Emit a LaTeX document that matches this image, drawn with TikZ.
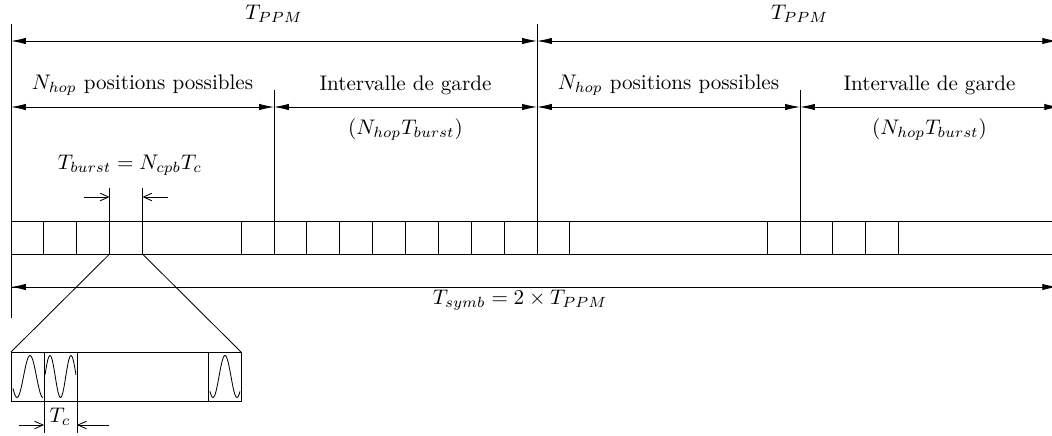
\documentclass[tikz,border=0pt]{standalone}
\usepackage{amsmath}
\usetikzlibrary{arrows.meta}

\begin{document}
\begin{tikzpicture}[
    x=0.474pt, y=-0.474pt,
    dimarr/.style={{Latex[length=7pt,width=3pt]}-{Latex[length=7pt,width=3pt]}, thin},
    smallarr/.style={-{Straight Barb[length=4pt,width=3.6pt]}, thin},
    wave/.style={thin, smooth, samples=40}
  ]
  \useasboundingbox (0,0) rectangle (1052,435);
  % reperes verticaux
  \draw (11,24) -- (11,318);
  \draw (537,24) -- (537,254);
  \draw (274,90) -- (274,221);
  \draw (800,90) -- (800,254);
  % durees T_PPM
  \draw[dimarr] (11,41) -- (537,41) node[midway, above=5pt] (tppma) {$T_{PPM}$};
  \draw[dimarr] (537,41) -- (1057,41) node[pos=0.505, above=5pt] (tppmb) {$T_{PPM}$};
  % positions et intervalles de garde
  \draw[dimarr] (11,107) -- (274,107) node[midway, above=2pt] (posa) {$N_{hop}$ positions possibles};
  \draw[dimarr] (274,107) -- (537,107) node[midway, above=2pt] (gardea) {Intervalle de garde}
    node[midway, below=2pt] (ga) {$(N_{hop}T_{burst})$};
  \draw[dimarr] (537,107) -- (800,107) node[midway, above=2pt] (posb) {$N_{hop}$ positions possibles};
  \draw[dimarr] (800,107) -- (1059,107) node[midway, above=2pt] (gardeb) {Intervalle de garde}
    node[midway, below=2pt] (gb) {$(N_{hop}T_{burst})$};
  % trame
  \draw (11,221) -- (1056,221);
  \draw (11,254) -- (1056,254);
  \foreach \k in {1,2,3,4,7,8,...,17,23,24,...,27}
    \draw (11+\k*32.875,221) -- (11+\k*32.875,254);
  % T_burst
  \node (tburst) at (130,165) {$T_{burst} = N_{cpb}T_c$};
  \draw (109.625,188) -- (109.625,221);
  \draw (142.5,188) -- (142.5,221);
  \draw[smallarr] (84,197) -- (109.625,197);
  \draw[smallarr] (168,197) -- (142.5,197);
  % T_symb
  \draw[-{Latex[length=7pt,width=3pt]}, thin] (11,287) -- (1057,287);
  \draw[{Latex[length=7pt,width=3pt]}-, thin] (11,287) -- (30,287);
  \node (tsymb) at (520,300) {$T_{symb} = 2 \times T_{PPM}$};
  % zoom sur un burst
  \draw (109.625,254) -- (11,352);
  \draw (142.5,254) -- (241,352);
  \draw (11,352) rectangle (241,401);
  \draw (44,352) -- (44,433);
  \draw (77,352) -- (77,433);
  \draw (208,352) -- (208,401);
  \draw[wave] plot[domain=13:43] (\x, {376.5-21*cos(360*(\x-30)/26)});
  \draw[wave] plot[domain=45:76] (\x, {376.5-21*cos(360*(\x-50)/21)});
  \draw[wave] plot[domain=210:240] (\x, {376.5-21*cos(360*(\x-225)/24)});
  \node (tc) at (60,417) {$T_c$};
  \draw[smallarr] (19,425) -- (44,425);
  \draw[smallarr] (109,425) -- (77,425);
\end{tikzpicture}
\end{document}
